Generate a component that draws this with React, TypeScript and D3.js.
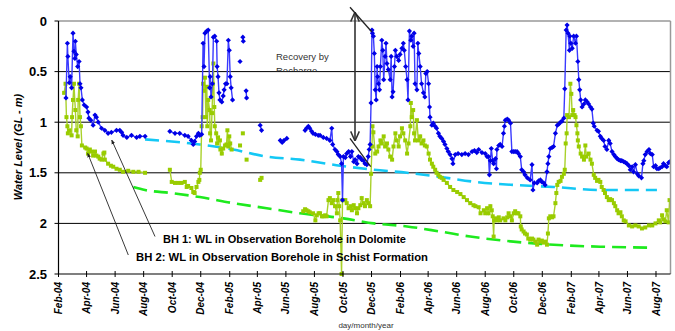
import React from 'react';
import * as d3 from 'd3';

type Pt = [string, number] | null;

// BH1: WL in Observation Borehole in Dolomite (m below ground level)
const bh1: Pt[] = [
  ["2004-02-17",0.76],["2004-02-20",0.22],["2004-02-21",0.35],["2004-02-24",0.61],["2004-02-26",0.55],["2004-02-29",0.66],
  ["2004-03-03",0.12],["2004-03-05",0.30],["2004-03-07",0.37],["2004-03-08",0.20],["2004-03-10",0.33],["2004-03-13",0.45],
  ["2004-03-16",0.40],["2004-03-18",0.62],["2004-03-20",0.66],["2004-03-23",0.78],["2004-03-27",0.83],["2004-04-01",0.85],
  ["2004-04-04",0.90],["2004-04-06",0.96],["2004-04-10",0.98],["2004-04-15",1.03],["2004-04-19",0.93],["2004-04-22",0.95],
  ["2004-04-26",1.00],["2004-05-03",1.06],["2004-05-10",1.08],["2004-05-17",1.11],["2004-05-24",1.10],["2004-06-04",1.08],
  ["2004-06-11",1.08],["2004-06-15",1.10],["2004-06-18",1.13],["2004-06-26",1.15],["2004-07-06",1.13],["2004-07-17",1.15],
  ["2004-07-24",1.14],["2004-08-04",1.14],
  null,
  ["2004-09-26",1.09],["2004-10-07",1.11],["2004-10-17",1.11],["2004-10-28",1.13],["2004-11-04",1.14],["2004-11-11",1.18],
  ["2004-11-15",1.22],["2004-11-18",1.19],["2004-11-22",1.14],["2004-11-26",1.11],["2004-11-29",1.13],["2004-12-03",1.12],
  ["2004-12-06",0.22],["2004-12-08",0.45],["2004-12-10",0.12],["2004-12-14",0.10],["2004-12-17",0.09],["2004-12-20",0.66],
  ["2004-12-21",0.55],["2004-12-23",0.75],["2004-12-26",0.62],["2004-12-28",0.16],["2004-12-31",0.15],["2005-01-04",0.20],
  ["2005-01-05",0.45],["2005-01-07",0.55],["2005-01-09",0.71],["2005-01-11",0.78],["2005-01-15",0.80],["2005-01-18",0.74],
  ["2005-01-20",0.68],["2005-01-23",0.62],["2005-01-26",0.62],["2005-01-29",0.19],["2005-01-31",0.29],["2005-02-02",0.55],
  ["2005-02-04",0.66],["2005-02-07",0.78],
  null,
  ["2005-02-23",0.40],
  null,
  ["2005-03-01",0.16],["2005-03-02",0.20],
  null,
  ["2005-03-08",0.69],["2005-03-09",0.76],
  null,
  ["2005-04-07",1.03],["2005-04-10",1.08],
  null,
  ["2005-05-20",1.18],["2005-05-24",1.20],["2005-05-28",1.18],["2005-06-03",1.16],
  null,
  ["2005-07-12",1.08],["2005-07-15",1.06],["2005-07-19",1.04],["2005-07-22",1.06],["2005-07-26",1.09],["2005-07-29",1.11],
  ["2005-08-03",1.12],["2005-08-09",1.13],["2005-08-13",1.13],["2005-08-20",1.15],["2005-08-27",1.16],["2005-09-03",1.18],
  ["2005-09-07",1.06],["2005-09-09",1.22],["2005-09-14",1.27],["2005-09-18",1.29],["2005-09-21",1.32],["2005-09-25",1.34],
  ["2005-09-28",1.41],["2005-09-30",1.77],["2005-10-02",1.34],["2005-10-06",1.35],["2005-10-09",1.31],["2005-10-13",1.29],
  ["2005-10-17",1.34],["2005-10-20",1.29],["2005-10-24",1.39],["2005-10-27",1.37],["2005-10-31",1.41],["2005-11-03",1.34],
  ["2005-11-07",1.35],["2005-11-10",1.37],["2005-11-14",1.38],["2005-11-17",1.41],["2005-11-21",1.42],["2005-11-24",1.34],
  ["2005-11-26",1.27],["2005-11-28",1.22],["2005-11-30",0.81],["2005-12-02",0.09],["2005-12-03",0.12],["2005-12-05",0.15],
  ["2005-12-07",0.32],["2005-12-09",0.68],["2005-12-11",0.78],["2005-12-13",0.45],["2005-12-14",0.55],["2005-12-16",0.62],
  ["2005-12-18",0.68],["2005-12-20",0.45],["2005-12-23",0.19],["2005-12-25",0.29],["2005-12-27",0.58],["2005-12-30",0.35],
  ["2006-01-01",0.22],["2006-01-03",0.42],["2006-01-06",0.48],["2006-01-10",0.58],["2006-01-12",0.35],["2006-01-14",0.75],
  ["2006-01-16",0.70],["2006-01-19",0.45],["2006-01-21",0.29],["2006-01-24",0.35],["2006-01-28",0.39],["2006-01-31",0.33],
  ["2006-02-04",0.27],["2006-02-07",0.22],["2006-02-09",0.29],["2006-02-12",0.45],["2006-02-15",0.58],["2006-02-17",0.78],
  ["2006-02-20",0.10],["2006-02-23",0.19],["2006-02-25",0.15],["2006-02-28",0.25],["2006-03-02",0.12],["2006-03-04",0.62],
  ["2006-03-08",0.68],["2006-03-10",0.22],["2006-03-12",0.32],["2006-03-15",0.45],["2006-03-18",0.62],["2006-03-22",0.71],
  ["2006-03-25",0.75],["2006-03-27",0.52],["2006-03-30",0.50],["2006-04-02",0.62],["2006-04-04",0.85],["2006-04-05",0.95],
  ["2006-04-09",1.03],["2006-04-12",1.01],["2006-04-16",1.04],["2006-04-19",1.06],["2006-04-23",1.11],["2006-04-26",1.14],
  ["2006-04-30",1.16],["2006-05-04",1.19],["2006-05-07",1.22],["2006-05-11",1.26],["2006-05-14",1.29],["2006-05-18",1.32],
  ["2006-05-22",1.36],["2006-05-24",1.41],["2006-05-29",1.32],["2006-06-04",1.31],["2006-06-12",1.32],["2006-06-19",1.31],
  ["2006-06-26",1.32],["2006-07-04",1.29],["2006-07-09",1.28],["2006-07-14",1.30],["2006-07-18",1.27],["2006-07-25",1.30],
  ["2006-08-01",1.31],["2006-08-05",1.34],["2006-08-08",1.34],["2006-08-10",1.52],["2006-08-12",1.38],["2006-08-14",1.26],
  ["2006-08-17",1.38],["2006-08-19",1.41],["2006-08-23",1.36],["2006-08-25",1.46],["2006-08-26",1.27],["2006-08-30",1.23],
  ["2006-09-02",1.22],["2006-09-06",1.24],["2006-09-09",1.11],["2006-09-11",1.04],["2006-09-13",0.98],["2006-09-17",0.97],
  ["2006-09-20",0.98],["2006-09-24",1.01],["2006-09-27",1.29],["2006-10-01",1.29],["2006-10-04",1.29],["2006-10-08",1.29],
  ["2006-10-11",1.31],["2006-10-15",1.34],["2006-10-18",1.47],["2006-10-22",1.49],["2006-10-25",1.52],["2006-10-30",1.55],
  ["2006-11-05",1.57],["2006-11-09",1.42],["2006-11-11",1.67],["2006-11-14",1.60],["2006-11-20",1.60],["2006-11-23",1.58],
  ["2006-11-27",1.57],["2006-11-30",1.59],["2006-12-04",1.60],["2006-12-07",1.62],["2006-12-11",1.49],["2006-12-13",1.41],
  ["2006-12-15",1.34],["2006-12-18",1.26],["2006-12-22",1.25],["2006-12-25",1.24],["2006-12-29",1.11],["2007-01-02",1.03],
  ["2007-01-05",1.02],["2007-01-09",1.00],["2007-01-12",0.99],["2007-01-16",0.96],["2007-01-18",0.67],["2007-01-21",0.09],
  ["2007-01-23",0.04],["2007-01-25",0.12],["2007-01-28",0.29],["2007-01-29",0.15],["2007-01-31",0.22],["2007-02-03",0.27],
  ["2007-02-06",0.15],["2007-02-10",0.22],["2007-02-12",0.15],["2007-02-15",0.40],["2007-02-17",0.58],["2007-02-19",0.68],
  ["2007-02-21",0.78],["2007-02-24",0.85],["2007-02-28",0.82],["2007-03-03",0.78],["2007-03-07",0.80],["2007-03-10",0.82],
  ["2007-03-14",0.85],["2007-03-17",0.87],["2007-03-20",1.01],["2007-03-22",1.04],["2007-03-28",1.08],["2007-03-31",1.09],
  ["2007-04-04",1.14],["2007-04-07",1.16],["2007-04-11",1.18],["2007-04-14",1.24],["2007-04-18",1.27],["2007-04-22",1.18],
  ["2007-04-25",1.21],["2007-04-29",1.29],["2007-05-03",1.32],["2007-05-06",1.34],["2007-05-10",1.36],["2007-05-13",1.37],
  ["2007-05-17",1.38],["2007-05-20",1.38],["2007-05-24",1.39],["2007-05-28",1.40],["2007-05-31",1.41],["2007-06-04",1.43],
  ["2007-06-07",1.47],["2007-06-11",1.44],["2007-06-14",1.49],["2007-06-18",1.42],["2007-06-22",1.51],["2007-06-25",1.53],
  ["2007-07-01",1.55],["2007-07-04",1.41],["2007-07-06",1.38],["2007-07-09",1.32],["2007-07-13",1.29],["2007-07-17",1.27],
  ["2007-07-20",1.31],["2007-07-24",1.32],["2007-07-27",1.44],["2007-07-31",1.43],["2007-08-03",1.46],["2007-08-07",1.46],
  ["2007-08-10",1.45],["2007-08-14",1.44],["2007-08-17",1.41],["2007-08-21",1.43],["2007-08-24",1.44],["2007-08-28",1.40],
  ["2007-08-31",1.39],
];

// BH2: WL in Observation Borehole in Schist Formation
const bh2: Pt[] = [
  ["2004-02-13",0.71],["2004-02-16",0.62],["2004-02-18",0.95],["2004-02-20",1.04],["2004-02-21",1.11],["2004-02-24",1.08],
  ["2004-02-29",1.13],["2004-03-01",0.95],["2004-03-03",0.78],["2004-03-05",0.62],["2004-03-08",0.88],["2004-03-10",1.08],
  ["2004-03-13",1.14],["2004-03-14",0.78],["2004-03-16",0.62],["2004-03-18",0.95],["2004-03-20",1.04],["2004-03-22",1.23],
  ["2004-03-29",1.25],["2004-04-01",1.26],["2004-04-04",1.31],["2004-04-08",1.27],["2004-04-11",1.29],["2004-04-15",1.33],
  ["2004-04-19",1.29],["2004-04-22",1.33],["2004-04-26",1.34],["2004-04-29",1.36],["2004-05-03",1.37],["2004-05-07",1.31],
  ["2004-05-09",1.30],["2004-05-10",1.37],["2004-05-17",1.41],["2004-05-23",1.43],["2004-05-28",1.44],["2004-06-04",1.46],
  ["2004-06-11",1.47],["2004-06-18",1.49],["2004-06-29",1.48],["2004-07-10",1.49],["2004-07-21",1.49],["2004-08-04",1.50],
  null,
  ["2004-09-26",1.47],["2004-09-30",1.59],["2004-10-07",1.60],["2004-10-14",1.60],["2004-10-21",1.60],["2004-10-28",1.59],
  ["2004-11-01",1.64],["2004-11-04",1.63],["2004-11-11",1.65],["2004-11-15",1.69],["2004-11-18",1.70],["2004-11-22",1.64],
  ["2004-11-26",1.59],["2004-11-28",1.57],["2004-11-29",1.50],["2004-12-01",1.47],["2004-12-03",1.04],["2004-12-05",0.95],
  ["2004-12-06",0.62],["2004-12-08",0.69],["2004-12-10",0.56],["2004-12-12",0.95],["2004-12-14",0.65],["2004-12-15",1.04],
  ["2004-12-17",0.78],["2004-12-20",0.88],["2004-12-21",1.11],["2004-12-23",1.18],["2004-12-25",0.91],["2004-12-27",0.62],
  ["2004-12-28",0.42],["2004-12-30",0.85],["2004-12-31",1.04],["2005-01-03",1.11],["2005-01-05",1.21],["2005-01-07",1.15],
  ["2005-01-11",1.18],["2005-01-12",1.27],["2005-01-15",1.31],["2005-01-18",1.26],["2005-01-22",1.23],["2005-01-25",1.22],
  ["2005-01-27",1.08],["2005-01-29",1.24],["2005-01-31",1.14],["2005-02-02",1.21],["2005-02-05",1.27],
  null,
  ["2005-02-23",1.23],
  null,
  ["2005-03-01",1.11],
  null,
  ["2005-03-09",1.37],
  null,
  ["2005-04-07",1.57],["2005-04-10",1.55],
  null,
  ["2005-07-08",1.88],["2005-07-12",1.86],["2005-07-15",1.87],["2005-07-19",1.88],["2005-07-22",1.89],["2005-07-29",1.90],
  ["2005-08-03",1.97],["2005-08-06",1.92],["2005-08-10",1.90],["2005-08-13",1.90],["2005-08-17",1.93],["2005-08-20",1.93],
  ["2005-08-24",1.92],["2005-08-27",1.93],["2005-08-31",1.77],["2005-09-03",1.75],["2005-09-07",1.80],["2005-09-10",1.77],
  ["2005-09-14",1.83],["2005-09-18",1.90],["2005-09-19",1.77],["2005-09-21",1.70],["2005-09-23",1.83],["2005-09-25",1.97],
  ["2005-09-28",2.50],["2005-09-30",1.77],["2005-10-02",1.77],["2005-10-06",1.77],["2005-10-09",1.80],["2005-10-13",1.85],
  ["2005-10-17",1.83],["2005-10-20",1.87],["2005-10-24",1.82],["2005-10-27",1.85],["2005-10-31",1.90],["2005-11-03",1.85],
  ["2005-11-07",1.82],["2005-11-10",1.75],["2005-11-14",1.80],["2005-11-17",1.83],["2005-11-21",1.77],["2005-11-24",1.80],
  ["2005-11-28",1.83],["2005-11-30",1.51],["2005-12-02",1.24],["2005-12-03",1.04],["2005-12-05",1.10],["2005-12-09",1.31],
  ["2005-12-13",1.29],["2005-12-16",1.24],["2005-12-20",1.18],["2005-12-23",1.21],["2005-12-27",1.14],["2005-12-30",1.24],
  ["2006-01-03",1.21],["2006-01-06",1.27],["2006-01-10",1.34],["2006-01-14",1.37],["2006-01-17",1.24],["2006-01-21",1.11],
  ["2006-01-24",1.18],["2006-01-28",1.24],["2006-01-31",1.14],["2006-02-04",1.06],["2006-02-07",1.11],["2006-02-11",1.18],
  ["2006-02-15",1.31],["2006-02-18",1.21],["2006-02-22",1.04],["2006-02-23",0.81],["2006-02-25",0.95],["2006-02-28",0.88],
  ["2006-03-02",1.11],["2006-03-04",1.18],["2006-03-08",0.98],["2006-03-11",1.18],["2006-03-15",1.14],["2006-03-18",1.21],
  ["2006-03-22",1.18],["2006-03-25",1.23],["2006-03-29",1.24],["2006-04-02",1.31],["2006-04-05",1.37],["2006-04-09",1.41],
  ["2006-04-12",1.44],["2006-04-16",1.47],["2006-04-19",1.50],["2006-04-23",1.52],["2006-04-26",1.54],["2006-04-30",1.55],
  ["2006-05-04",1.57],["2006-05-11",1.60],["2006-05-18",1.64],["2006-05-25",1.67],["2006-06-02",1.69],["2006-06-09",1.71],
  ["2006-06-16",1.74],["2006-06-23",1.77],["2006-06-30",1.80],["2006-07-07",1.82],["2006-07-11",1.83],["2006-07-18",1.84],
  ["2006-07-22",1.90],["2006-07-29",1.87],["2006-08-01",1.90],["2006-08-05",1.85],["2006-08-08",1.90],["2006-08-12",1.83],
  ["2006-08-15",1.87],["2006-08-17",1.93],["2006-08-19",2.13],["2006-08-20",1.97],["2006-08-23",1.95],["2006-08-26",1.97],
  ["2006-08-30",1.94],["2006-09-02",1.97],["2006-09-09",1.95],["2006-09-13",1.97],["2006-09-17",1.94],["2006-09-20",1.90],
  ["2006-09-24",1.93],["2006-09-27",1.97],["2006-10-01",1.90],["2006-10-04",1.88],["2006-10-08",1.90],["2006-10-11",1.90],
  ["2006-10-15",1.93],["2006-10-16",2.03],["2006-10-18",2.06],["2006-10-22",2.08],["2006-10-25",2.10],["2006-10-29",2.11],
  ["2006-11-01",2.15],["2006-11-05",2.16],["2006-11-09",2.15],["2006-11-12",2.16],["2006-11-16",2.18],["2006-11-20",2.21],
  ["2006-11-23",2.16],["2006-11-27",2.18],["2006-11-30",2.17],["2006-12-04",2.19],["2006-12-07",2.18],["2006-12-11",2.21],
  ["2006-12-13",2.10],["2006-12-15",1.95],["2006-12-18",1.93],["2006-12-22",1.94],["2006-12-25",1.93],["2006-12-29",1.80],
  ["2006-12-31",1.70],["2007-01-02",1.62],["2007-01-05",1.59],["2007-01-09",1.58],["2007-01-12",1.54],["2007-01-16",1.51],
  ["2007-01-18",1.47],["2007-01-20",1.21],["2007-01-22",1.11],["2007-01-23",0.93],["2007-01-27",0.95],["2007-01-30",0.62],
  ["2007-02-01",0.72],["2007-02-03",0.93],["2007-02-05",0.88],["2007-02-08",0.93],["2007-02-10",0.95],["2007-02-12",1.03],
  ["2007-02-14",1.11],["2007-02-15",1.18],["2007-02-17",1.24],["2007-02-21",1.31],["2007-02-24",1.34],["2007-02-28",1.37],
  ["2007-03-03",1.23],["2007-03-05",1.34],["2007-03-10",1.31],["2007-03-14",1.37],["2007-03-17",1.41],["2007-03-21",1.52],
  ["2007-03-24",1.55],["2007-03-28",1.58],["2007-03-31",1.57],["2007-04-04",1.59],["2007-04-07",1.64],["2007-04-11",1.67],
  ["2007-04-14",1.70],["2007-04-18",1.74],["2007-04-22",1.77],["2007-04-25",1.76],["2007-04-29",1.77],["2007-05-03",1.80],
  ["2007-05-06",1.83],["2007-05-10",1.87],["2007-05-13",1.90],["2007-05-17",1.89],["2007-05-20",1.93],["2007-05-24",1.97],
  ["2007-05-28",1.98],["2007-06-04",2.02],["2007-06-11",2.03],["2007-06-18",2.02],["2007-06-25",2.03],["2007-07-02",2.05],
  ["2007-07-09",2.04],["2007-07-17",2.02],["2007-07-24",2.02],["2007-07-31",2.00],["2007-08-07",1.97],["2007-08-10",1.99],
  ["2007-08-14",1.92],["2007-08-17",1.96],["2007-08-21",1.98],["2007-08-24",1.87],["2007-08-28",1.99],["2007-08-30",1.77],
];

// Dashed trend (recession) lines
const trendBH1: [string, number][] = [
  ["2004-08-04",1.17],["2004-11-29",1.22],["2005-02-08",1.27],["2005-04-21",1.34],["2005-07-01",1.37],["2005-09-25",1.43],
  ["2005-12-06",1.47],["2006-02-15",1.50],["2006-04-26",1.54],["2006-07-11",1.59],["2006-10-01",1.62],["2006-12-25",1.64],
  ["2007-04-04",1.67],["2007-08-03",1.67],
];
const trendBH2: [string, number][] = [
  ["2004-07-10",1.64],["2004-08-04",1.67],["2004-09-30",1.70],["2004-11-29",1.74],["2005-02-08",1.80],["2005-04-21",1.85],
  ["2005-07-01",1.90],["2005-10-02",1.95],["2005-12-06",2.00],["2006-02-15",2.03],["2006-04-26",2.08],["2006-06-30",2.13],
  ["2006-09-09",2.17],["2006-11-20",2.20],["2007-01-30",2.22],["2007-04-04",2.23],["2007-07-17",2.24],
];

const xTickLabels = [
  "Feb-04","Apr-04","Jun-04","Aug-04","Oct-04","Dec-04","Feb-05","Apr-05","Jun-05","Aug-05","Oct-05","Dec-05",
  "Feb-06","Apr-06","Jun-06","Aug-06","Oct-06","Dec-06","Feb-07","Apr-07","Jun-07","Aug-07",
];
const yTicks = [0, 0.5, 1, 1.5, 2, 2.5];
const yGrid = [0.5, 1, 1.5, 2];

const W = 675, H = 331;
const PL = 58.5, PR = 670.5, PT = 21, PB = 274;

const parseDate = d3.timeParse("%Y-%m-%d");
const parseTick = d3.timeParse("%b-%y");

export default function App() {
  const x = d3.scaleTime()
    .domain([new Date(2004, 1, 1), new Date(2007, 8, 1)])
    .range([PL, PR]);
  const y = d3.scaleLinear().domain([0, 2.5]).range([PT, PB]);

  const line = d3.line<Pt>()
    .defined(d => d !== null)
    .x(d => x(parseDate((d as [string, number])[0])!))
    .y(d => y((d as [string, number])[1]));

  const trendLine = d3.line<[string, number]>()
    .x(d => x(parseDate(d[0])!))
    .y(d => y(d[1]))
    .curve(d3.curveMonotoneX);

  const pts = (arr: Pt[]) => arr.filter(d => d !== null) as [string, number][];

  const font = "Arial, 'Liberation Sans', Helvetica, sans-serif";

  return (
    <svg width={W} height={H} style={{ position: 'absolute', left: 0, top: 0, background: '#fff' }}
      fontFamily={font}>
      <defs>
        <clipPath id="plot"><rect x={PL} y={PT - 4} width={PR - PL} height={PB - PT + 6} /></clipPath>
        <clipPath id="rechargeClip"><rect x={250} y={0} width={150} height={71.5} /></clipPath>
        <marker id="arrowSmall" viewBox="0 0 10 10" refX="9" refY="5" markerWidth="5" markerHeight="5" orient="auto-start-reverse">
          <path d="M0,1 L10,5 L0,9 Z" fill="#222" />
        </marker>
        <marker id="arrowOpen" viewBox="0 0 10 10" refX="9" refY="5" markerWidth="6" markerHeight="6" orient="auto-start-reverse">
          <path d="M0,0.5 L10,5 L0,9.5" fill="none" stroke="#333" strokeWidth="1.6" />
        </marker>
      </defs>

      {/* gridlines */}
      {yGrid.map(v => (
        <line key={v} x1={PL} x2={PR} y1={y(v)} y2={y(v)} stroke="#000" strokeWidth={1} />
      ))}

      <g clipPath="url(#plot)">
        {/* trend lines */}
        <path d={trendLine(trendBH1) || ''} fill="none" stroke="#14c8f5" strokeWidth={2.6} strokeDasharray="14,7" />
        <path d={trendLine(trendBH2) || ''} fill="none" stroke="#1eea1e" strokeWidth={2.6} strokeDasharray="14,7" />

        {/* BH2 series */}
        <path d={line(bh2) || ''} fill="none" stroke="#a9d12a" strokeWidth={1.4} />
        {pts(bh2).map((d, i) => (
          <rect key={i} x={x(parseDate(d[0])!) - 2} y={y(d[1]) - 2} width={4} height={4} fill="#99cc00" />
        ))}

        {/* BH1 series */}
        <path d={line(bh1) || ''} fill="none" stroke="#3a3aff" strokeWidth={1.4} />
        {pts(bh1).map((d, i) => {
          const cx = x(parseDate(d[0])!), cy = y(d[1]);
          return <path key={i} d={`M${cx},${cy - 2.6}L${cx + 2.6},${cy}L${cx},${cy + 2.6}L${cx - 2.6},${cy}Z`} fill="#0000e6" />;
        })}
      </g>

      {/* plot frame */}
      <line x1={PL} x2={PR} y1={PT} y2={PT} stroke="#999" strokeWidth={1.5} />
      <line x1={PR} x2={PR} y1={PT} y2={PB} stroke="#999" strokeWidth={1.5} />
      <line x1={PL} x2={PL} y1={PT} y2={PB} stroke="#000" strokeWidth={1.2} />
      <line x1={PL} x2={PR} y1={PB} y2={PB} stroke="#000" strokeWidth={1.2} />

      {/* y axis ticks and labels */}
      {yTicks.map(v => (
        <g key={v}>
          <line x1={PL - 4} x2={PL} y1={y(v)} y2={y(v)} stroke="#000" />
          <text x={47} y={y(v)} dy="0.36em" textAnchor="end" fontSize={13} fontWeight="bold">{v}</text>
        </g>
      ))}

      {/* x axis ticks and labels */}
      {xTickLabels.map(lbl => {
        const tx = x(parseTick(lbl)!);
        return (
          <g key={lbl}>
            <line x1={tx} x2={tx} y1={PB - 3} y2={PB + 3} stroke="#000" />
            <text transform={`translate(${tx + 3.6},${PB + 8}) rotate(-90)`} textAnchor="end"
              fontSize={10} fontWeight="bold" fontStyle="italic">{lbl}</text>
          </g>
        );
      })}

      {/* axis titles */}
      <text transform={`translate(22,147) rotate(-90)`} textAnchor="middle" fontSize={11}
        fontWeight="bold" fontStyle="italic">Water Level (GL - m)</text>
      <text x={366} y={328} textAnchor="middle" fontSize={8} fill="#333">day/month/year</text>

      {/* legend annotations */}
      <line x1={155} y1={236.5} x2={111.7} y2={140} stroke="#222" strokeWidth={0.9} markerEnd="url(#arrowSmall)" />
      <line x1={128.3} y1={255} x2={87.7} y2={153.3} stroke="#222" strokeWidth={0.9} markerEnd="url(#arrowSmall)" />
      <text x={163} y={242.5} fontSize={10.5} fontWeight="bold" textLength={243} lengthAdjust="spacingAndGlyphs">BH 1: WL in Observation Borehole in Dolomite</text>
      <text x={136} y={260.5} fontSize={10.5} fontWeight="bold" textLength={292} lengthAdjust="spacingAndGlyphs">BH  2: WL in Observation Borehole in Schist Formation</text>

      {/* recovery annotation */}
      <line x1={355} y1={13} x2={355} y2={140} stroke="#333" strokeWidth={1.6}
        markerStart="url(#arrowOpen)" markerEnd="url(#arrowOpen)" />
      <line x1={350} y1={7.3} x2={371.7} y2={31.7} stroke="#222" strokeWidth={1.3} />
      <line x1={350} y1={138.3} x2={370.7} y2={166.7} stroke="#222" strokeWidth={1.3} />
      <text x={276} y={60} fontSize={9.5} fill="#333">Recovery by</text>
      <g clipPath="url(#rechargeClip)">
        <text x={276} y={74} fontSize={9.5} fill="#333">Recharge</text>
      </g>
    </svg>
  );
}
